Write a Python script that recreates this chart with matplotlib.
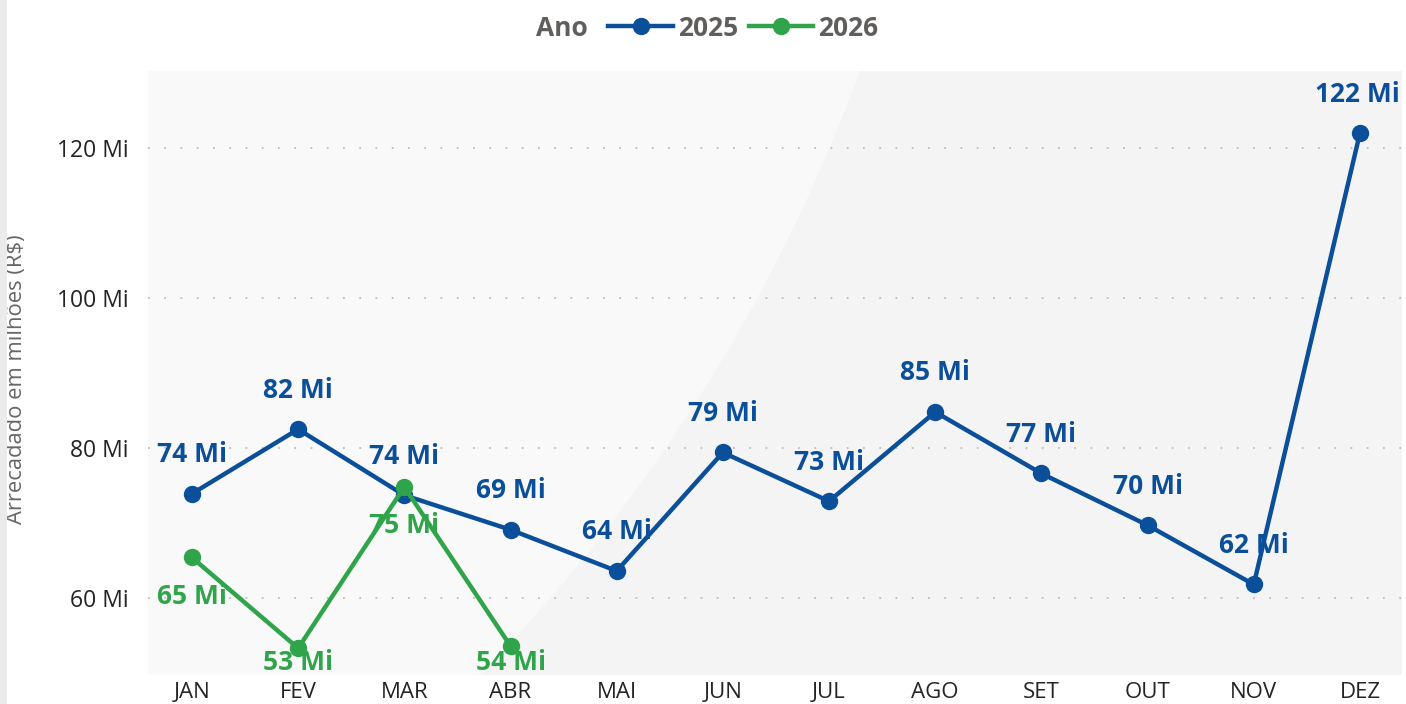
import matplotlib
matplotlib.use("Agg")
import matplotlib.pyplot as plt
from matplotlib.lines import Line2D
from matplotlib.patches import Ellipse, Rectangle
from matplotlib.offsetbox import HPacker

plt.rcParams['font.family'] = ['Open Sans', 'DejaVu Sans']

months = ['JAN', 'FEV', 'MAR', 'ABR', 'MAI', 'JUN', 'JUL', 'AGO', 'SET', 'OUT', 'NOV', 'DEZ']
v2025 = [73.9, 82.5, 73.7, 69.1, 63.6, 79.4, 72.9, 84.8, 76.6, 69.7, 61.8, 122.0]
v2026 = [65.4, 53.3, 74.8, 53.6]
yticks = [60, 80, 100, 120]
ytick_labels = ['60 Mi', '80 Mi', '100 Mi', '120 Mi']

BLUE = '#0b4f9a'
GREEN = '#2fa44a'

fig = plt.figure(figsize=(14.06, 7.04), dpi=100)
fig.patch.set_facecolor('white')
fig.patches.append(Rectangle((0, 0), 7 / 1406, 1, transform=fig.transFigure,
                             facecolor='#ebebeb', edgecolor='none', zorder=0))

ax = fig.add_axes([148 / 1406, 29 / 704, 1254 / 1406, 604 / 704])
ax.set_facecolor('#f4f4f4')
bg = Ellipse((-743 / 1406, 1 + 516 / 704), 2 * 1707 / 1406, 2 * 1707 / 704,
             transform=fig.transFigure, facecolor='#f9f9f9', edgecolor='none', zorder=0)
ax.add_patch(bg)
bg.set_clip_path(ax.patch)

x25 = list(range(len(v2025)))
x26 = list(range(len(v2026)))

ax.set_xlim(-0.414, 11.396)
ax.set_ylim(49.73, 130.27)

l25, = ax.plot(x25, v2025, color=BLUE, lw=3.2, marker='o', ms=11.5, zorder=4,
               solid_joinstyle='round', solid_capstyle='round')
l26, = ax.plot(x26, v2026, color=GREEN, lw=3.2, marker='o', ms=11.5, zorder=5,
               solid_joinstyle='round', solid_capstyle='round')

ax.set_yticks(yticks)
ax.set_yticklabels(ytick_labels)
ax.set_xticks(x25)
ax.set_xticklabels(months)
ax.tick_params(axis='both', length=0, labelsize=16.5, labelcolor='#252423')
ax.tick_params(axis='x', labelsize=16)
ax.tick_params(axis='y', pad=14)
ax.tick_params(axis='x', pad=5)
ax.yaxis.grid(True, linestyle=(0, (1, 8)), color='#bdbdbd', lw=1.3)
ax.set_axisbelow(True)
for s in ax.spines.values():
    s.set_visible(False)

ax.set_ylabel('Arrecadado em milhões (R$)', fontsize=15.8, color='#666666')
ax.yaxis.set_label_coords(-0.0965, 0.49)

# data labels (pixel-based offsets, clamped to stay inside plot area)
px_per_unit = 604 / (130.27 - 49.73)
off = 39 / px_per_unit
ymin_lab = 49.73 + 12 / px_per_unit
ymax_lab = 130.27 - 12 / px_per_unit
texts = []
for x, v in zip(x25, v2025):
    ty = min(v + off, ymax_lab)
    texts.append(ax.text(x, ty, f"{v:.0f} Mi", color=BLUE, fontsize=19, fontweight='bold',
                         ha='center', va='center', zorder=3))
for x, v in zip(x26, v2026):
    ty = max(v - off, ymin_lab)
    texts.append(ax.text(x, ty, f"{v:.0f} Mi", color=GREEN, fontsize=19, fontweight='bold',
                         ha='center', va='center', zorder=3))

fig.canvas.draw()
r = fig.canvas.get_renderer()
axbb = ax.get_window_extent(r)
for t in texts:
    bb = t.get_window_extent(r)
    if bb.x1 > axbb.x1:
        dx = bb.x1 - axbb.x1 + 2
        x0, y0 = t.get_position()
        t.set_position((x0 - dx / 106.18, y0))

# legend with title on the left
h25 = Line2D([], [], color=BLUE, lw=3.2, marker='o', ms=11.5)
h26 = Line2D([], [], color=GREEN, lw=3.2, marker='o', ms=11.5)
leg = fig.legend([h25, h26], ['2025', '2026'], loc='center', bbox_to_anchor=(0.503, 1 - 28 / 704),
                 ncol=2, frameon=False, title='Ano',
                 title_fontproperties={'weight': 'bold', 'size': 19},
                 prop={'weight': 'bold', 'size': 19},
                 handlelength=2.45, handletextpad=0.2, columnspacing=0.38, borderpad=0)
leg.get_title().set_color('#605e5c')
for t in leg.get_texts():
    t.set_color('#605e5c')
box = leg._legend_box
box._children = [HPacker(pad=0, sep=15, align='center', children=box.get_children())]

fig.savefig('out.png', dpi=100, facecolor='white')
